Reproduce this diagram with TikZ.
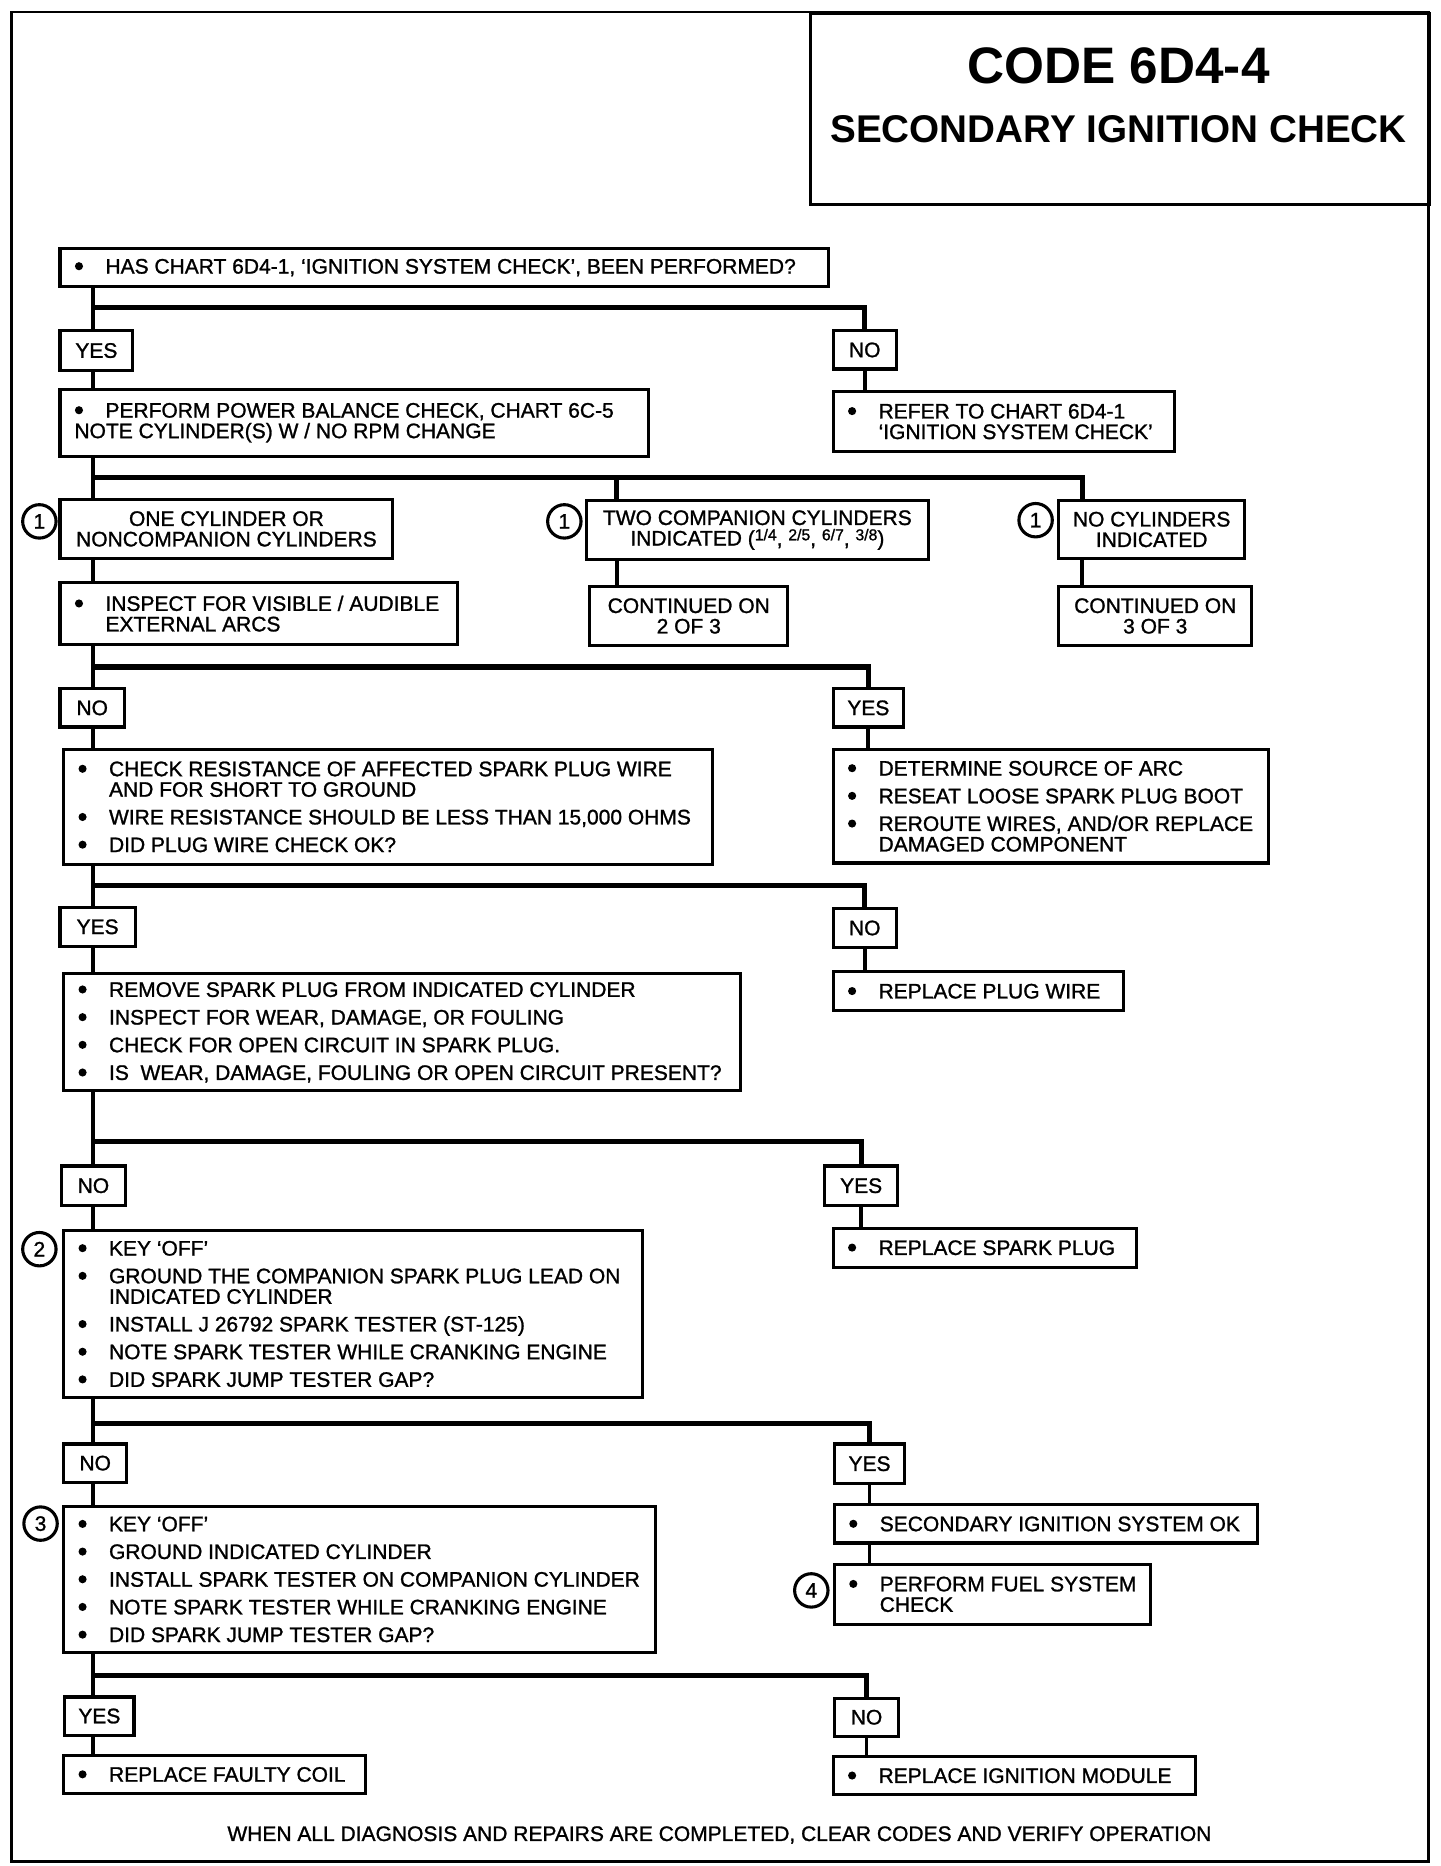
\documentclass[tikz,border=0pt]{standalone}
\usepackage{fontspec}
\setmainfont{Liberation Sans}
\newfontfamily\bodyfam{Liberation Sans}[Ligatures=TeX,FakeBold=1.2]
\newcommand\bu{\makebox[13pt][l]{\hspace{0.2pt}\tikz[baseline=0pt,x=1pt,y=1pt]\fill (1.7,3.1) circle (1.7);}}
\newcommand\ind{\hspace*{13pt}}
\newcommand\fr[2]{\raisebox{2.2pt}{\fontsize{6.6}{6.6}\selectfont #1/#2}}
\newcommand\bodyfont{\bodyfam\fontsize{8.8}{8.6}\selectfont}
\tikzset{
 boxst/.style={draw, line width=1.3pt, anchor=north west, inner sep=0pt},
 txt/.style={inner sep=0pt, font=\bodyfont},
 branch/.style={line width=2.2pt},
 vline/.style={line width=1.6pt},
 circ/.style={draw, circle, line width=1.3pt, minimum size=14pt, inner sep=0pt, font=\bodyfont},
}
\newcommand\bx[7][]{%
 \pgfmathsetmacro\bxw{(#5-#3)/2}%
 \pgfmathsetmacro\bxh{(#6-#4)/2}%
 \node[boxst, minimum width=\bxw pt, minimum height=\bxh pt] (#2) at (#3,#4) {};
 \node[txt, align=left, anchor=west, #1] (#2-t) at ([xshift=6.5pt]#2.west) {#7};}
\newcommand\cbx[7][]{%
 \pgfmathsetmacro\bxw{(#5-#3)/2}%
 \pgfmathsetmacro\bxh{(#6-#4)/2}%
 \node[boxst, minimum width=\bxw pt, minimum height=\bxh pt] (#2) at (#3,#4) {};
 \node[txt, align=center, #1] (#2-t) at (#2.center) {#7};}
\begin{document}
\begin{tikzpicture}[x=0.5pt,y=-0.5pt]
\useasboundingbox (0,0) rectangle (1207,1564);
% frame and title
\draw[line width=1.2pt] (10,10) rectangle (1197,1560);
\node[draw, line width=1.2pt, anchor=north west, minimum width=259.5pt, minimum height=80pt, inner sep=0pt] (title) at (678,10) {};
\node[font=\bfseries\fontsize{21.5}{24}\selectfont] (code) at (937.5,55) {CODE 6D4-4};
\node[font=\bfseries\fontsize{16.2}{18}\selectfont] (sub) at (937.5,108) {SECONDARY IGNITION CHECK};
% coordinates
\coordinate (T) at (78,0);
\coordinate (M) at (517,0);
\coordinate (R) at (907,0);
\coordinate (b1) at (0,258);
\coordinate (b2) at (0,400);
\coordinate (b3) at (0,559);
\coordinate (b4) at (0,742);
\coordinate (b5) at (0,957);
\coordinate (b6) at (0,1193);
\coordinate (b7) at (0,1404);
% boxes
\bx{q1}{49}{207}{693}{239}{\bu HAS CHART 6D4-1, ‘IGNITION SYSTEM CHECK’, BEEN PERFORMED?}
\cbx{yes1}{49}{276}{110}{309}{YES}
\cbx{no1}{697}{276}{750}{308}{NO}
\bx{pb}{49}{325}{542}{381}{\bu PERFORM POWER BALANCE CHECK, CHART 6C-5\\NOTE CYLINDER(S) W / NO RPM CHANGE}
\bx{refer}{697}{327}{983}{377}{\bu REFER TO CHART 6D4-1\\\ind ‘IGNITION SYSTEM CHECK’}
\cbx{onecyl}{49}{417}{328}{467}{ONE CYLINDER OR\\NONCOMPANION CYLINDERS}
\cbx{twocomp}{490}{418}{777}{468}{TWO COMPANION CYLINDERS\\INDICATED (\fr14, \fr25, \fr67, \fr38)}
\cbx{nocyl}{886}{418}{1042}{467}{NO CYLINDERS\\INDICATED}
\node[circ] (c1a) at (33,437) {1};
\node[circ] (c1b) at (473,437) {1};
\node[circ] (c1c) at (868,436) {1};
\bx{inspect}{49}{487}{382}{539}{\bu INSPECT FOR VISIBLE / AUDIBLE\\\ind EXTERNAL ARCS}
\cbx{cont2}{493}{490}{659}{540}{CONTINUED ON\\2 OF 3}
\cbx{cont3}{886}{490}{1048}{540}{CONTINUED ON\\3 OF 3}
\cbx{no2}{49}{576}{103}{608}{NO}
\cbx{yes2}{697}{576}{756}{608}{YES}
\bx{check}{52}{627}{596}{723}{\bu CHECK RESISTANCE OF AFFECTED SPARK PLUG WIRE\\\ind AND FOR SHORT TO GROUND\\[3pt]\bu WIRE RESISTANCE SHOULD BE LESS THAN 15,000 OHMS\\[3pt]\bu DID PLUG WIRE CHECK OK?}
\bx{determine}{697}{627}{1062}{722}{\bu DETERMINE SOURCE OF ARC\\[3pt]\bu RESEAT LOOSE SPARK PLUG BOOT\\[3pt]\bu REROUTE WIRES, AND/OR REPLACE\\\ind DAMAGED COMPONENT}
\cbx{yes3}{49}{759}{112}{792}{YES}
\cbx{no3}{697}{760}{750}{793}{NO}
\bx{remove}{52}{815}{619}{913}{\bu REMOVE SPARK PLUG FROM INDICATED CYLINDER\\[3pt]\bu INSPECT FOR WEAR, DAMAGE, OR FOULING\\[3pt]\bu CHECK FOR OPEN CIRCUIT IN SPARK PLUG.\\[3pt]\bu IS\ \ WEAR, DAMAGE, FOULING OR OPEN CIRCUIT PRESENT?}
\bx{replwire}{697}{813}{940}{846}{\bu REPLACE PLUG WIRE}
\cbx{no4}{50}{976}{104}{1009}{NO}
\cbx{yes4}{690}{976}{751}{1009}{YES}
\bx{boxtwo}{52}{1030}{537}{1170}{\bu KEY ‘OFF’\\[3pt]\bu GROUND THE COMPANION SPARK PLUG LEAD ON\\\ind INDICATED CYLINDER\\[3pt]\bu INSTALL J 26792 SPARK TESTER (ST-125)\\[3pt]\bu NOTE SPARK TESTER WHILE CRANKING ENGINE\\[3pt]\bu DID SPARK JUMP TESTER GAP?}
\node[circ] (c2) at (33,1047) {2};
\bx{replplug}{697}{1028}{951}{1061}{\bu REPLACE SPARK PLUG}
\cbx{no5}{52}{1209}{105}{1241}{NO}
\cbx{yes5}{698}{1209}{757}{1242}{YES}
\bx{boxthree}{52}{1261}{548}{1384}{\bu KEY ‘OFF’\\[3pt]\bu GROUND INDICATED CYLINDER\\[3pt]\bu INSTALL SPARK TESTER ON COMPANION CYLINDER\\[3pt]\bu NOTE SPARK TESTER WHILE CRANKING ENGINE\\[3pt]\bu DID SPARK JUMP TESTER GAP?}
\node[circ] (c3) at (34,1277) {3};
\bx{sisok}{698}{1260}{1053}{1292}{\bu SECONDARY IGNITION SYSTEM OK}
\bx{fuel}{698}{1310}{963}{1360}{\bu PERFORM FUEL SYSTEM\\\ind CHECK}
\node[circ] (c4) at (680,1333) {4};
\cbx{yes6}{53}{1421}{111}{1453}{YES}
\cbx{no6}{698}{1422}{752}{1454}{NO}
\bx{coil}{52}{1470}{305}{1502}{\bu REPLACE FAULTY COIL}
\bx{module}{697}{1471}{1001}{1503}{\bu REPLACE IGNITION MODULE}
\node[font=\bodyfont] (footer) at (603,1538) {WHEN ALL DIAGNOSIS AND REPAIRS ARE COMPLETED, CLEAR CODES AND VERIFY OPERATION};
% connectors
\draw[vline] (T |- q1.south) -- (T |- yes1.north);
\draw[branch] (T |- b1) -| (no1.north);
\draw[vline] (no1.south) -- (no1.south |- refer.north);
\draw[vline] (T |- yes1.south) -- (T |- pb.north);
\draw[vline] (T |- pb.south) -- (T |- onecyl.north);
\draw[branch] (T |- b2) -- (R |- b2) -- (R |- nocyl.north);
\draw[branch] (M |- b2) -- (M |- twocomp.north);
\draw[vline] (M |- twocomp.south) -- (M |- cont2.north);
\draw[vline] (R |- nocyl.south) -- (R |- cont3.north);
\draw[vline] (T |- onecyl.south) -- (T |- inspect.north);
\draw[vline] (T |- inspect.south) -- (T |- no2.north);
\draw[branch] (T |- b3) -| (yes2.north);
\draw[vline] (T |- no2.south) -- (T |- check.north);
\draw[vline] (yes2.south) -- (yes2.south |- determine.north);
\draw[vline] (T |- check.south) -- (T |- yes3.north);
\draw[branch] (T |- b4) -| (no3.north);
\draw[vline] (T |- yes3.south) -- (T |- remove.north);
\draw[vline] (no3.south) -- (no3.south |- replwire.north);
\draw[vline] (T |- remove.south) -- (T |- no4.north);
\draw[branch] (T |- b5) -| (yes4.north);
\draw[vline] (T |- no4.south) -- (T |- boxtwo.north);
\draw[vline] (yes4.south) -- (yes4.south |- replplug.north);
\draw[vline] (T |- boxtwo.south) -- (T |- no5.north);
\draw[branch] (T |- b6) -| (yes5.north);
\draw[vline] (T |- no5.south) -- (T |- boxthree.north);
\draw[vline] (yes5.south) -- (yes5.south |- sisok.north);
\draw[vline] (yes5.south |- sisok.south) -- (yes5.south |- fuel.north);
\draw[vline] (T |- boxthree.south) -- (T |- yes6.north);
\draw[branch] (T |- b7) -| (no6.north);
\draw[vline] (T |- yes6.south) -- (T |- coil.north);
\draw[vline] (no6.south) -- (no6.south |- module.north);
\end{tikzpicture}
\end{document}
